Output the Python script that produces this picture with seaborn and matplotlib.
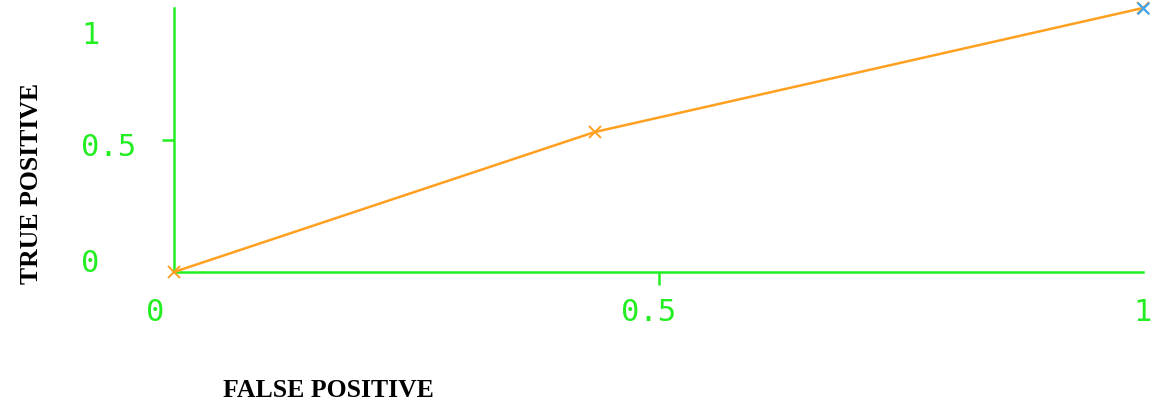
import matplotlib
matplotlib.use("Agg")
import matplotlib.pyplot as plt
import matplotlib.transforms as mtransforms
import seaborn as sns
import pandas as pd

# ---- data ----
fpr = [0.0, 0.434, 1.0]
tpr = [0.0, 0.53, 1.0]
end_fpr = [1.0]
end_tpr = [1.0]
tick_values = [0, 0.5, 1]
tick_labels = ["0", "0.5", "1"]
x_label = "FALSE POSITIVE"
y_label = "TRUE POSITIVE"

GREEN = "#22ee22"
ORANGE = "#ffa020"
BLUE = "#3fa5f0"

sns.set_style("white")
plt.rcParams["font.family"] = ["DejaVu Sans"]

fig = plt.figure(figsize=(11.54, 4.12), dpi=100)
W, H = 1154, 412
ax = fig.add_axes([174 / W, (412 - 272) / H, 969 / W, 264 / H])

df = pd.DataFrame({"fpr": fpr, "tpr": tpr})
sns.lineplot(data=df, x="fpr", y="tpr", ax=ax, color=ORANGE, linewidth=1.8,
             marker="x", markersize=8, markeredgewidth=1.4, markeredgecolor=ORANGE,
             estimator=None, sort=False, clip_on=False, zorder=3)
sns.scatterplot(x=end_fpr, y=end_tpr, ax=ax, color=BLUE, marker="x", s=70,
                linewidth=1.6, clip_on=False, zorder=4)

ax.set_xlim(0, 1)
ax.set_ylim(0, 1)
for s in ["top", "right"]:
    ax.spines[s].set_visible(False)
for s in ["left", "bottom"]:
    ax.spines[s].set_color(GREEN)
    ax.spines[s].set_linewidth(1.8)

ax.xaxis.remove_overlapping_locs = False
ax.yaxis.remove_overlapping_locs = False
ax.set_xticks(tick_values)
ax.set_xticklabels(tick_labels)
ax.set_yticks(tick_values)
ax.set_yticklabels(tick_labels)
ax.set_xticks([0.5], minor=True)
ax.set_yticks([0.5], minor=True)
ax.tick_params(which="major", length=0, labelcolor=GREEN, labelsize=22)
ax.tick_params(axis="x", which="major", pad=19)
ax.tick_params(axis="y", which="major", pad=67)
ax.tick_params(which="minor", bottom=True, left=True, direction="out",
               length=9, width=1.8, color=GREEN)
for lab in ax.get_xticklabels() + ax.get_yticklabels():
    lab.set_fontfamily("DejaVu Sans Mono")
    lab.set_color(GREEN)
for lab in ax.get_yticklabels():
    lab.set_horizontalalignment("left")

dpi_t = fig.dpi_scale_trans
x_off = [-19, -10, 0]
y_off = [12, -5, -25]
for lab, dx in zip(ax.get_xticklabels(), x_off):
    lab.set_transform(lab.get_transform() + mtransforms.ScaledTranslation(dx / 100, 0, dpi_t))
for lab, dy in zip(ax.get_yticklabels(), y_off):
    lab.set_transform(lab.get_transform() + mtransforms.ScaledTranslation(0, dy / 100, dpi_t))

lab_font = dict(fontfamily="Liberation Serif", fontweight="bold", fontsize=18.5, color="black")
ax.set_xlabel(x_label, **lab_font)
ax.set_ylabel(y_label, **lab_font)
ax.xaxis.set_label_coords(0.159, -0.405)
ax.yaxis.set_label_coords(-0.135, 0.337)

fig.savefig("out.png", dpi=100)
